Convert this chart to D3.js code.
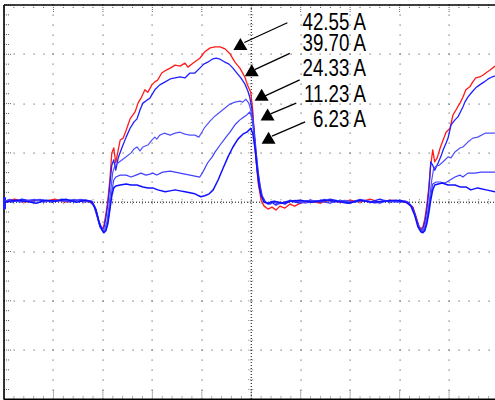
<!DOCTYPE html>
<html>
<head>
<meta charset="utf-8">
<script src="https://cdn.jsdelivr.net/npm/d3@7"></script>
<style>
  html, body { margin: 0; padding: 0; background: #fff; overflow: hidden; }
  svg { display: block; }
</style>
</head>
<body>
<svg id="scope" width="495" height="400"></svg>
<script>
// Screen: 10 horizontal divisions of 100 µs, 8 vertical divisions of 100 mV.
const timeDomain = [0, 1000];
const levelDomain = [-400, 400];

// Current captions for the five captures.
const currents = [42.55, 39.70, 24.33, 11.23, 6.23];

// Captured waveforms: [time µs, level mV].
const trace42 = [[0,2],[22,6],[42,0],[63,4],[83,2],[103,6],[123,0],[144,4],[164,2],[174,0],[182,-6],[188,-24],[194,-48],[198,-54],[202,-48],[206,-24],[210,4],[214,45],[218,100],[222,110],[226,80],[231,106],[235,126],[241,130],[247,146],[255,169],[265,183],[271,201],[277,211],[285,228],[291,223],[299,238],[305,244],[311,248],[319,262],[328,268],[336,272],[346,278],[356,276],[366,282],[372,274],[382,282],[396,292],[406,305],[417,313],[427,315],[437,315],[447,311],[457,301],[467,284],[477,272],[487,254],[493,236],[499,223],[503,187],[508,106],[514,39],[520,4],[526,-8],[534,-14],[542,-10],[550,-16],[558,-8],[568,-12],[578,-4],[588,-8],[599,-2],[619,2],[639,-2],[659,4],[679,0],[700,4],[720,0],[740,6],[760,0],[780,4],[801,2],[817,-2],[827,-10],[833,-28],[839,-48],[843,-54],[847,-50],[851,-34],[855,-6],[859,29],[863,75],[867,106],[871,82],[876,90],[882,110],[888,126],[894,142],[902,150],[908,177],[914,187],[922,201],[928,213],[934,228],[942,234],[948,244],[954,252],[962,254],[969,258],[977,264],[983,268],[993,276]];

const trace39 = [[0,4],[16,0],[36,6],[57,2],[77,4],[97,0],[117,6],[137,2],[158,4],[174,2],[182,-8],[188,-28],[194,-50],[198,-56],[202,-52],[206,-32],[210,-4],[214,35],[218,75],[222,86],[226,65],[231,90],[239,112],[247,132],[255,150],[263,163],[269,169],[275,187],[281,201],[289,207],[295,211],[305,228],[315,238],[326,244],[336,250],[346,252],[356,254],[366,252],[376,262],[386,262],[396,272],[404,280],[412,284],[421,290],[429,292],[437,290],[447,284],[455,280],[463,272],[471,262],[479,252],[487,240],[493,226],[497,213],[501,191],[506,146],[510,100],[514,61],[518,33],[522,13],[528,2],[534,-4],[542,0],[550,-6],[558,0],[568,-4],[578,2],[599,-2],[619,4],[639,0],[659,6],[679,2],[700,-2],[720,4],[740,0],[760,6],[780,0],[801,4],[817,0],[827,-12],[833,-32],[839,-50],[843,-56],[847,-54],[851,-40],[855,-16],[859,21],[863,82],[867,75],[871,65],[878,80],[884,94],[888,106],[894,120],[898,130],[904,157],[912,167],[918,173],[922,181],[928,193],[932,203],[938,213],[946,223],[954,232],[962,238],[971,244],[979,250],[987,254],[993,256]];

const trace24 = [[0,0],[20,4],[40,2],[61,6],[81,0],[101,4],[121,2],[142,6],[162,0],[176,2],[184,-10],[190,-32],[196,-52],[200,-58],[204,-54],[208,-40],[212,-12],[216,25],[220,61],[224,73],[231,80],[239,86],[247,92],[257,100],[263,108],[269,112],[275,104],[281,112],[291,116],[299,126],[305,132],[309,128],[315,136],[324,140],[336,136],[346,140],[356,142],[366,138],[376,136],[386,136],[394,132],[400,142],[406,152],[417,165],[427,175],[437,183],[447,191],[457,199],[467,203],[477,205],[483,203],[489,209],[495,201],[499,187],[503,167],[508,106],[512,65],[516,35],[520,15],[526,0],[534,-2],[542,2],[554,-4],[568,0],[588,4],[609,-2],[629,2],[649,6],[669,0],[690,4],[710,0],[730,4],[750,-2],[770,4],[791,0],[811,2],[821,-4],[829,-18],[835,-38],[841,-54],[845,-58],[849,-54],[853,-40],[857,-20],[861,9],[865,45],[869,69],[874,73],[880,75],[888,82],[898,92],[904,90],[912,102],[922,110],[928,112],[938,122],[948,130],[958,132],[973,140],[983,140],[993,140]];

const trace11 = [[0,2],[12,6],[32,0],[53,4],[73,6],[93,2],[113,4],[133,0],[154,6],[178,2],[186,-14],[192,-38],[198,-54],[202,-60],[206,-56],[210,-40],[214,-12],[218,21],[222,45],[226,51],[235,55],[247,55],[257,51],[267,55],[277,59],[287,55],[295,57],[301,59],[309,55],[321,61],[336,63],[346,61],[356,59],[366,57],[376,55],[386,53],[396,51],[402,61],[412,80],[421,92],[427,102],[437,116],[449,132],[457,142],[467,157],[477,167],[485,173],[491,177],[497,183],[501,173],[506,136],[510,96],[514,55],[518,29],[522,11],[528,0],[538,-4],[548,2],[562,-2],[578,4],[599,0],[619,4],[639,2],[659,-2],[679,4],[700,0],[720,6],[740,2],[760,-2],[780,4],[801,0],[813,2],[823,-6],[831,-24],[837,-46],[843,-58],[847,-60],[851,-54],[855,-40],[859,-16],[863,13],[867,37],[874,41],[882,41],[892,39],[902,45],[912,51],[922,55],[928,51],[938,59],[952,59],[965,61],[979,61],[993,61]];

const trace6 = [[0,0],[24,4],[44,2],[65,-2],[85,4],[105,2],[125,6],[146,0],[166,4],[178,0],[186,-16],[192,-40],[198,-56],[202,-62],[206,-58],[210,-44],[214,-16],[218,13],[222,29],[226,33],[235,35],[247,37],[257,35],[269,35],[281,31],[291,29],[301,29],[311,25],[326,21],[336,23],[346,25],[356,23],[366,21],[376,19],[386,17],[398,11],[406,13],[415,17],[423,25],[433,45],[443,69],[453,92],[463,112],[473,128],[483,138],[491,142],[499,150],[503,140],[508,106],[512,65],[516,33],[520,13],[526,0],[534,-2],[546,2],[562,-2],[578,2],[599,4],[623,0],[647,4],[671,2],[696,-2],[720,4],[744,0],[768,2],[793,4],[813,0],[823,-8],[831,-28],[837,-50],[843,-60],[847,-62],[851,-58],[855,-44],[859,-22],[863,4],[867,25],[871,35],[878,37],[886,39],[898,35],[912,35],[922,31],[934,31],[944,25],[958,29],[975,25],[993,21]];

// Marker tips, pointer tails and caption anchors, in screen units (µs, mV).
const markerTips  = [[478,333],[501,280],[521,230],[533,190],[535,143]];
const pointerFrom = [[486,324],[507,269],[527,215],[539,179],[542,134]];
const pointerTo   = [[573,364],[578,302],[598,248],[591,201],[609,163]];
const captionAt   = [[732,350],[732,307],[732,256],[732,203],[732,152]];

const traces = [trace42, trace39, trace24, trace11, trace6];
const traceColors = ["#ff1a1a", "#1f1fff", "#5050ff", "#4040ff", "#1010ff"];
const traceWidths = [1.3, 1.3, 1.2, 1.2, 1.5];

const svg = d3.select("#scope");
const x = d3.scaleLinear().domain(timeDomain).range([4, 498.5]);
const y = d3.scaleLinear().domain(levelDomain).range([399.4, 5]);

const minorT = d3.range(0, 1000.1, 20);
const minorV = d3.range(-400, 400.1, 20);
const majorT = d3.range(0, 1000.1, 100);
const majorV = d3.range(-400, 400.1, 100);

const grid = svg.append("g").attr("class", "graticule");

// dotted division lines
const gridDots = [];
majorV.filter(v => v !== 0 && Math.abs(v) !== 400).forEach(v =>
  minorT.forEach(t => gridDots.push([t, v])));
majorT.filter(t => t !== 0 && t !== 500 && t !== 1000).forEach(t =>
  minorV.forEach(v => gridDots.push([t, v])));
grid.selectAll("rect.dot").data(gridDots).join("rect")
  .attr("class", "dot")
  .attr("x", d => Math.round(x(d[0])) - 0.5)
  .attr("y", d => Math.round(y(d[1])) - 0.5)
  .attr("width", 1.2).attr("height", 1.2)
  .attr("fill", "#707070");

// centre axes: fine dotted lines with minor ticks
grid.append("line")
  .attr("x1", x(0)).attr("x2", x(1000)).attr("y1", y(0)).attr("y2", y(0))
  .attr("stroke", "#000").attr("stroke-width", 1).attr("stroke-dasharray", "1,2");
grid.append("line")
  .attr("x1", x(500)).attr("x2", x(500)).attr("y1", y(400)).attr("y2", y(-400))
  .attr("stroke", "#000").attr("stroke-width", 1).attr("stroke-dasharray", "1,2");
grid.selectAll("line.tickH").data(minorT).join("line")
  .attr("class", "tickH")
  .attr("x1", d => x(d)).attr("x2", d => x(d))
  .attr("y1", y(0) - 3).attr("y2", y(0) + 3)
  .attr("stroke", "#808080").attr("stroke-width", 1).attr("stroke-dasharray", "1,1");
grid.selectAll("line.tickV").data(minorV).join("line")
  .attr("class", "tickV")
  .attr("x1", x(500) - 3).attr("x2", x(500) + 3)
  .attr("y1", d => y(d)).attr("y2", d => y(d))
  .attr("stroke", "#808080").attr("stroke-width", 1).attr("stroke-dasharray", "1,1");

// border ticks
const isMajorT = t => t % 100 === 0;
grid.selectAll("line.topTick").data(minorT).join("line")
  .attr("class", "topTick")
  .attr("x1", d => x(d)).attr("x2", d => x(d))
  .attr("y1", y(400)).attr("y2", d => y(400) + (isMajorT(d) ? 8 : 4))
  .attr("stroke", "#606060").attr("stroke-dasharray", "1,1");
grid.selectAll("line.botTick").data(minorT).join("line")
  .attr("class", "botTick")
  .attr("x1", d => x(d)).attr("x2", d => x(d))
  .attr("y1", y(-400)).attr("y2", d => y(-400) - (isMajorT(d) ? 9 : 4))
  .attr("stroke", "#606060").attr("stroke-dasharray", "1,1");
grid.selectAll("line.leftTick").data(minorV).join("line")
  .attr("class", "leftTick")
  .attr("x1", x(0)).attr("x2", d => x(0) + (d % 100 === 0 ? 8 : 5))
  .attr("y1", d => y(d)).attr("y2", d => y(d))
  .attr("stroke", "#606060").attr("stroke-dasharray", "1,1");

// frame
grid.append("line").attr("x1", x(0)).attr("x2", x(0)).attr("y1", y(400)).attr("y2", y(-400))
  .attr("stroke", "#000").attr("stroke-width", 1.6);
grid.append("line").attr("x1", x(0)).attr("x2", x(1000)).attr("y1", y(400)).attr("y2", y(400))
  .attr("stroke", "#000").attr("stroke-width", 1.4);
grid.append("line").attr("x1", x(0)).attr("x2", x(1000)).attr("y1", y(-400)).attr("y2", y(-400))
  .attr("stroke", "#000").attr("stroke-width", 2);

// channel ground marker
svg.append("rect")
  .attr("x", x(0) - 1).attr("y", y(0) - 5).attr("width", 3).attr("height", 12)
  .attr("fill", "#2020ff");

// waveforms
const line = d3.line().x(d => x(d[0])).y(d => y(d[1]));
svg.append("g").attr("class", "traces")
  .selectAll("path").data(traces).join("path")
  .attr("d", line)
  .attr("fill", "none")
  .attr("stroke", (d, i) => traceColors[i])
  .attr("stroke-width", (d, i) => traceWidths[i])
  .attr("stroke-linejoin", "round");

// current markers and captions
const notes = svg.append("g").attr("class", "notes");
currents.forEach((c, i) => {
  const [tx, ty] = [x(markerTips[i][0]), y(markerTips[i][1])];
  notes.append("path")
    .attr("d", `M${tx},${ty}L${tx - 7},${ty + 12}L${tx + 7},${ty + 12}Z`)
    .attr("fill", "#000");
  notes.append("line")
    .attr("x1", x(pointerFrom[i][0])).attr("y1", y(pointerFrom[i][1]))
    .attr("x2", x(pointerTo[i][0])).attr("y2", y(pointerTo[i][1]))
    .attr("stroke", "#000").attr("stroke-width", 1.3);
  notes.append("text")
    .attr("transform", `translate(${x(captionAt[i][0])},${y(captionAt[i][1])}) scale(0.78,1)`)
    .attr("text-anchor", "end")
    .attr("font-family", "'Liberation Sans', Arial, sans-serif")
    .attr("font-size", 24)
    .attr("fill", "#000")
    .text(`${c.toFixed(2)} A`);
});
</script>
</body>
</html>
